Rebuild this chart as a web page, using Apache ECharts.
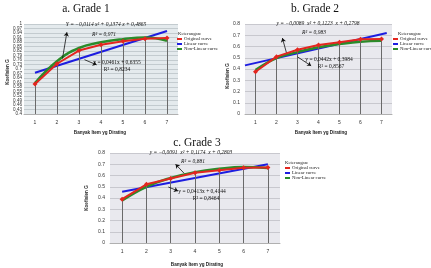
<!DOCTYPE html>
<html><head><meta charset="utf-8">
<script src="https://cdn.jsdelivr.net/npm/echarts@6/dist/echarts.min.js"></script>
<style>html,body{margin:0;padding:0;background:#fff}#c{width:431px;height:268px}</style>
</head><body><div id="c"></div>
<script>
// ---- data ----
const categories = ['1', '2', '3', '4', '5', '6', '7'];
const xValues = [1, 2, 3, 4, 5, 6, 7];
const yTickLabelsA = ['0.4','0.43','0.46','0.49','0.52','0.55','0.58','0.61','0.64','0.67','0.7','0.73','0.76','0.79','0.82','0.85','0.88','0.91','0.94','0.97','1'];
const seriesNames = ['Original curve', 'Linear curve', 'Non-Linear curve'];

const originalA  = [0.600, 0.735, 0.823, 0.862, 0.885, 0.902, 0.906];
const nonLinearA = [0.607, 0.752, 0.840, 0.878, 0.899, 0.910, 0.888];
const linearAX = [1, 7];
const linearAY = [0.675, 0.953];

const originalB  = [0.375, 0.510, 0.571, 0.614, 0.638, 0.665, 0.667];
const nonLinearB = [0.391, 0.497, 0.550, 0.594, 0.622, 0.643, 0.650];
const linearBX = [0.5, 7.25];
const linearBY = [0.432, 0.720];

const originalC  = [0.390, 0.522, 0.573, 0.625, 0.646, 0.669, 0.671];
const nonLinearC = [0.378, 0.500, 0.578, 0.630, 0.660, 0.675, 0.667];
const linearCX = [1, 7];
const linearCY = [0.456, 0.700];

const titles = ['a. Grade 1', 'b. Grade 2', 'c. Grade 3'];
const polyEq = ['Y = \u22120,0114 x\u00B2 + 0,1374 x + 0,4865', 'y = \u22120,0089  x\u00B2 + 0,1223  x + 0,2798', 'y = \u22120,0091  x\u00B2 + 0,1174  x + 0,2803'];
const polyR2 = ['R\u00B2 = 0,971', 'R\u00B2 = 0,983', 'R\u00B2 = 0,881'];
const linEq = ['y = 0,0461x + 0,6355', 'y = 0,0442x + 0,3984', 'y = 0,0413x + 0,4144'];
const linR2 = ['R\u00B2 = 0,8234', 'R\u00B2 = 0,8567', 'R\u00B2 = 0,8464'];

// ---- layout ----
const panels = [
  { grid: {left: 24, top: 24, width: 154, height: 90}, yMin: 0.4, yMax: 1, catY: true,
    orig: originalA, nl: nonLinearA, lx: linearAX, ly: linearAY, bg: '#e4eaed', gl: '#c3cbcf',
    arrows: [[[2.25, 0.77], [2.45, 0.945]], [[3.25, 0.762], [3.8, 0.728]]],
    title: [86, 9], legend: [177, 36.5], ket: [178, 34],
    eq: [[106, 25], [104, 34.5], [117, 63], [117, 70]], xName: [100, 133], yName: [8, 72] },
  { grid: {left: 245, top: 24, width: 147, height: 90}, yMin: 0, yMax: 0.8, catY: false,
    orig: originalB, nl: nonLinearB, lx: linearBX, ly: linearBY, bg: '#e9e9ee', gl: '#c8c8ce',
    arrows: [[[2.48, 0.54], [2.28, 0.675]], [[3.0, 0.508], [3.65, 0.428]]],
    title: [315, 9], legend: [393, 36.5], ket: [398, 34],
    eq: [[318, 24], [314, 32.5], [329, 60], [331, 66.5]], xName: [321, 133], yName: [228, 76] },
  { grid: {left: 110, top: 153, width: 170, height: 90}, yMin: 0, yMax: 0.8, catY: false,
    orig: originalC, nl: nonLinearC, lx: linearCX, ly: linearCY, bg: '#e9e9ee', gl: '#c8c8ce',
    arrows: [[[3.55, 0.62], [3.2, 0.70]], [[2.9, 0.498], [3.3, 0.462]]],
    title: [197, 143], legend: [285, 165.5], ket: [285, 163],
    eq: [[191, 153], [193, 162], [202, 192], [206, 199]], xName: [197, 265], yName: [87, 198] }
];

const RED = '#e3261f', BLUE = '#1d1de0', GREEN = '#2a8c2a';
const option = { animation: false, grid: [], xAxis: [], yAxis: [], series: [], legend: [], graphic: [] };
const labelFont = 'Liberation Sans';

panels.forEach((p, i) => {
  option.grid.push(Object.assign({ show: true, backgroundColor: p.bg, borderWidth: 0, containLabel: false }, p.grid));
  // visible category x axis (labels), hidden value x axis (data)
  option.xAxis.push({ type: 'category', gridIndex: i, data: categories, boundaryGap: true,
    axisLine: { show: true, lineStyle: { color: '#b0b0b0', width: 1 } }, axisTick: { show: false },
    axisLabel: { fontSize: 5, fontFamily: labelFont, color: '#333', margin: 6, interval: 0 }, splitLine: { show: false } });
  option.xAxis.push({ type: 'value', gridIndex: i, min: 0.5, max: 7.5, show: false });
  // visible label y axis, hidden data y axis
  if (p.catY) {
    option.yAxis.push({ type: 'category', gridIndex: i, data: yTickLabelsA, boundaryGap: false,
      axisLine: { show: false }, axisTick: { show: false },
      axisLabel: { fontSize: 4.6, fontFamily: labelFont, color: '#333', margin: 2, interval: 0 },
      splitLine: { show: true, interval: 0, lineStyle: { color: p.gl, width: 1 } } });
  } else {
    option.yAxis.push({ type: 'value', gridIndex: i, min: p.yMin, max: p.yMax, interval: 0.1,
      axisLine: { show: false }, axisTick: { show: false },
      axisLabel: { fontSize: 5, fontFamily: labelFont, color: '#333', margin: 5 },
      splitLine: { show: true, lineStyle: { color: p.gl, width: 1 } } });
  }
  option.yAxis.push({ type: 'value', gridIndex: i, min: p.yMin, max: p.yMax, show: false });
  const xi = 2 * i + 1, yi = 2 * i + 1;
  const origPts = xValues.map((x, k) => [x, p.orig[k]]);
  const nlPts = xValues.map((x, k) => [x, p.nl[k]]);
  const linPts = p.lx.map((x, k) => [x, p.ly[k]]);
  const ml = origPts.map(pt => [{ coord: [pt[0], p.yMin] }, { coord: pt }]);
  p.arrows.forEach(a => ml.push([
    { coord: a[0], symbol: 'none', lineStyle: { color: '#111', width: 0.8, type: 'solid' } },
    { coord: a[1], symbol: 'arrow', symbolSize: 4 }
  ]));
  option.series.push({ type: 'line', xAxisIndex: xi, yAxisIndex: yi, data: origPts, symbol: 'none',
    lineStyle: { opacity: 0 }, silent: true, z: 1,
    markLine: { silent: true, symbol: ['none', 'none'], label: { show: false }, animation: false,
      lineStyle: { color: '#6a6a6a', width: 1, type: 'solid' }, data: ml } });
  option.series.push({ name: seriesNames[1], type: 'line', xAxisIndex: xi, yAxisIndex: yi, data: linPts,
    symbol: 'none', lineStyle: { color: BLUE, width: 2 }, itemStyle: { color: BLUE }, z: 3 });
  option.series.push({ name: seriesNames[2], type: 'line', xAxisIndex: xi, yAxisIndex: yi, data: nlPts,
    smooth: 0.45, symbol: 'none', lineStyle: { color: GREEN, width: 2.5 }, itemStyle: { color: GREEN }, z: 4 });
  option.series.push({ name: seriesNames[0], type: 'line', xAxisIndex: xi, yAxisIndex: yi, data: origPts,
    symbol: 'diamond', symbolSize: 5, lineStyle: { color: RED, width: 2 }, itemStyle: { color: RED }, z: 5 });

  option.legend.push({ data: seriesNames, left: p.legend[0], top: p.legend[1], orient: 'vertical',
    icon: 'rect', itemWidth: 5, itemHeight: 2, itemGap: 0, padding: 0, selectedMode: false,
    textStyle: { fontSize: 4.8, lineHeight: 5, fontFamily: 'Liberation Serif', color: '#222', padding: [0, 0, 0, -3] } });

  const g = option.graphic;
  g.push({ type: 'text', x: p.title[0], y: p.title[1], style: { text: titles[i], font: '11.5px "Liberation Serif"', fill: '#111', textAlign: 'center', textVerticalAlign: 'middle' } });
  g.push({ type: 'text', x: p.ket[0], y: p.ket[1], style: { text: 'Keterangan:', font: '4.8px "Liberation Serif"', fill: '#222', textAlign: 'left', textVerticalAlign: 'middle' } });
  const eqTexts = [polyEq[i], polyR2[i], linEq[i], linR2[i]];
  eqTexts.forEach((t, k) => g.push({ type: 'text', x: p.eq[k][0], y: p.eq[k][1], z: 10,
    style: { text: t, font: (k < 2 ? 'italic ' : '') + '5.5px "Liberation Serif"', fill: '#111', textAlign: 'center', textVerticalAlign: 'middle' } }));
  g.push({ type: 'text', x: p.xName[0], y: p.xName[1], style: { text: 'Banyak Item yg Dirating', font: 'bold 4.6px "Liberation Sans"', fill: '#222', textAlign: 'center', textVerticalAlign: 'middle' } });
  g.push({ type: 'text', x: p.yName[0], y: p.yName[1], rotation: Math.PI / 2, style: { text: 'Koefisien G', font: 'bold 4.6px "Liberation Sans"', fill: '#222', textAlign: 'center', textVerticalAlign: 'middle' } });
});

const chart = echarts.init(document.getElementById('c'), null, { renderer: 'canvas' });
chart.setOption(option);
</script></body></html>
